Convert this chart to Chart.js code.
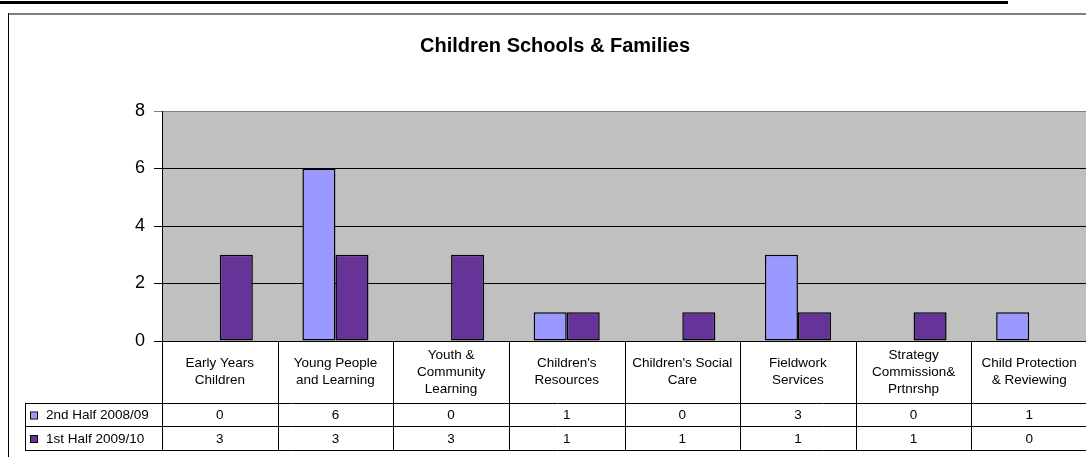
<!DOCTYPE html>
<html>
<head>
<meta charset="utf-8">
<title>Children Schools & Families</title>
<script src="https://cdn.jsdelivr.net/npm/chart.js@4"></script>
<style>
  html, body { margin: 0; padding: 0; background: #fff; overflow: hidden; }
  #wrap { width: 1090px; height: 457px; }
</style>
</head>
<body>
<div id="wrap"><canvas id="chart" width="1090" height="457"></canvas></div>
<script>
// chart data
const chartTitle = "Children Schools & Families";
const categories = [
  ["Early Years", "Children"],
  ["Young People", "and Learning"],
  ["Youth &", "Community", "Learning"],
  ["Children's", "Resources"],
  ["Children's Social", "Care"],
  ["Fieldwork", "Services"],
  ["Strategy", "Commission&", "Prtnrshp"],
  ["Child Protection", "& Reviewing"]
];
const seriesNames = ["2nd Half 2008/09", "1st Half 2009/10"];
const secondHalf0809 = [0, 6, 0, 1, 0, 3, 0, 1];
const firstHalf0910 = [3, 3, 3, 1, 1, 1, 1, 0];
const yTicks = [0, 2, 4, 6, 8];

const seriesColors = ["#9999FF", "#663399"];
const font = "Arial, 'Liberation Sans', sans-serif";

// grey plot area
const plotBackground = {
  id: "plotBackground",
  beforeDraw(chart) {
    const { ctx, chartArea: a } = chart;
    ctx.save();
    ctx.fillStyle = "#C0C0C0";
    ctx.fillRect(a.left, a.top, a.right - a.left, a.bottom - a.top);
    ctx.restore();
  }
};

// frame, title and the data table under the plot
const frameAndTable = {
  id: "frameAndTable",
  afterDraw(chart) {
    const { ctx, chartArea: a } = chart;
    const x = chart.scales.x;
    const n = categories.length;
    const catW = (a.right - a.left) / n;
    const headBottom = 403;
    const rowLines = [403, 426, 450];
    const legendLeft = 25;

    ctx.save();
    // caption underline and chart frame
    ctx.fillStyle = "#000";
    ctx.fillRect(0, 1, 1008, 3);
    ctx.fillStyle = "#808080";
    ctx.fillRect(8, 13, chart.width - 8, 2);
    ctx.fillStyle = "#000";
    ctx.fillRect(8, 13, 1, chart.height - 13);

    // title
    ctx.fillStyle = "#000";
    ctx.font = "bold 20px " + font;
    ctx.textAlign = "center";
    ctx.textBaseline = "middle";
    ctx.fillText(chartTitle, 555, 46);

    // table lines
    ctx.strokeStyle = "#000";
    ctx.lineWidth = 1;
    ctx.beginPath();
    ctx.moveTo(a.left, a.bottom + 0.5);
    ctx.lineTo(chart.width, a.bottom + 0.5);
    for (let i = 0; i <= n; i++) {
      const px = Math.round(a.left + i * catW) + 0.5;
      ctx.moveTo(px, a.bottom);
      ctx.lineTo(px, rowLines[2]);
    }
    rowLines.forEach((y) => {
      ctx.moveTo(legendLeft, y + 0.5);
      ctx.lineTo(chart.width, y + 0.5);
    });
    ctx.moveTo(legendLeft + 0.5, rowLines[0]);
    ctx.lineTo(legendLeft + 0.5, rowLines[2]);
    ctx.stroke();

    // header labels
    ctx.font = "13.5px " + font;
    ctx.fillStyle = "#000";
    const lineH = 17;
    categories.forEach((lines, i) => {
      const cx = x.getPixelForValue(i);
      const midY = (a.bottom + headBottom) / 2;
      const startY = midY - ((lines.length - 1) * lineH) / 2;
      lines.forEach((t, j) => ctx.fillText(t, cx, startY + j * lineH));
    });

    // value rows with legend keys
    const rows = [secondHalf0809, firstHalf0910];
    rows.forEach((vals, r) => {
      const cy = (rowLines[r] + rowLines[r + 1]) / 2 + 1;
      ctx.fillStyle = seriesColors[r];
      ctx.fillRect(31, cy - 3, 6, 6);
      ctx.strokeStyle = "#000";
      ctx.strokeRect(30.5, cy - 3.5, 7, 7);
      ctx.fillStyle = "#000";
      ctx.textAlign = "left";
      ctx.fillText(seriesNames[r], 46, cy);
      ctx.textAlign = "center";
      vals.forEach((v, i) => ctx.fillText(String(v), x.getPixelForValue(i), cy));
    });
    ctx.restore();
  }
};

const ctx = document.getElementById("chart").getContext("2d");
new Chart(ctx, {
  type: "bar",
  data: {
    labels: categories,
    datasets: [
      {
        label: seriesNames[0],
        data: secondHalf0809,
        backgroundColor: seriesColors[0],
        borderColor: "#000",
        borderWidth: (c) => (c.raw === 0 ? 0 : 1.5),
        borderSkipped: false
      },
      {
        label: seriesNames[1],
        data: firstHalf0910,
        backgroundColor: seriesColors[1],
        borderColor: "#000",
        borderWidth: (c) => (c.raw === 0 ? 0 : 1.5),
        borderSkipped: false
      }
    ]
  },
  options: {
    responsive: false,
    animation: false,
    devicePixelRatio: 1,
    layout: { padding: { top: 111, bottom: 116, left: 0, right: 3 } },
    categoryPercentage: 2 / 3.5,
    barPercentage: 1,
    plugins: {
      legend: { display: false },
      title: { display: false },
      tooltip: { enabled: false }
    },
    scales: {
      x: {
        ticks: { display: false },
        grid: { display: false },
        border: { display: false },
        afterFit: (s) => { s.height = 0; }
      },
      y: {
        min: 0,
        max: 8,
        afterBuildTicks: (s) => { s.ticks = yTicks.map((v) => ({ value: v })); },
        afterFit: (s) => { s.width = 162; },
        ticks: {
          color: "#000",
          padding: 9,
          font: { family: font, size: 18 }
        },
        grid: {
          color: (c) => (c.tick && c.tick.value === 8 ? "#808080" : "#000"),
          tickLength: 8
        },
        border: { color: "#000", width: 1 }
      }
    }
  },
  plugins: [plotBackground, frameAndTable]
});
</script>
</body>
</html>
